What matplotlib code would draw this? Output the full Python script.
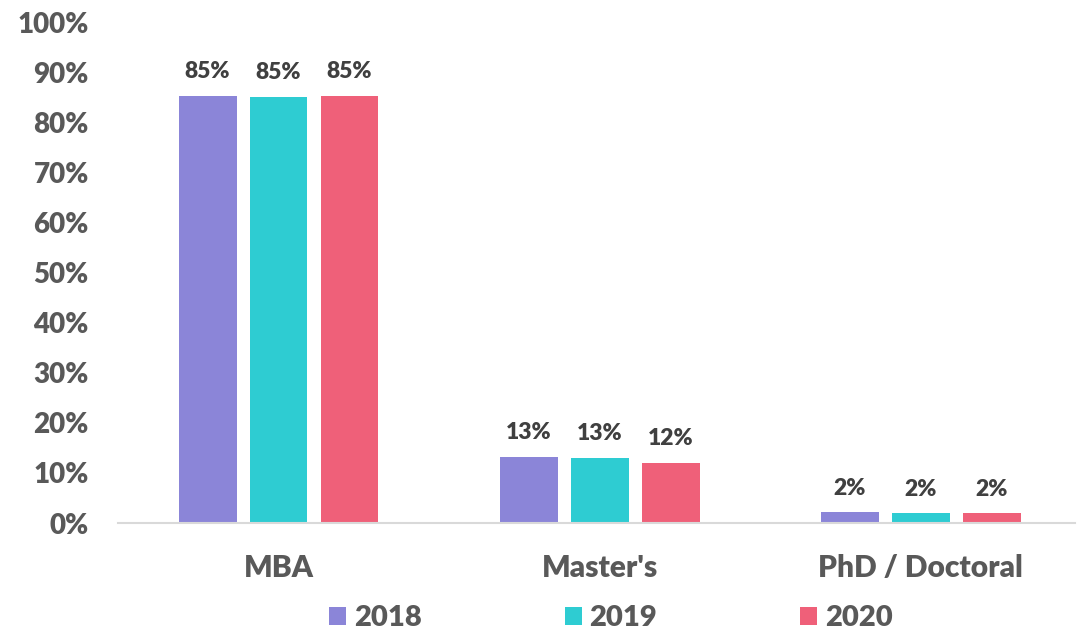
import matplotlib.pyplot as plt
import numpy as np

categories = ["MBA", "Master's", "PhD / Doctoral"]
years = ["2018", "2019", "2020"]
share_2018 = [85.3, 13.1, 2.1]
share_2019 = [85.1, 12.9, 1.9]
share_2020 = [85.3, 11.9, 1.9]
colors = ["#8B85D8", "#2ECCD2", "#EF6079"]

plt.rcParams["font.family"] = ["Lato", "DejaVu Sans"]
plt.rcParams["font.weight"] = 800

fig = plt.figure(figsize=(10.78, 6.3), dpi=100)
ax = fig.add_axes([118 / 1078, 1 - 523 / 630, 957 / 1078, 501 / 630])

x = np.arange(len(categories))
width = 0.18
offset = 0.221
for i, (vals, yr) in enumerate(zip([share_2018, share_2019, share_2020], years)):
    pos = x + (i - 1) * offset
    ax.bar(pos, vals, width, color=colors[i], label=yr)
    for p, v in zip(pos, vals):
        ax.annotate(f"{v:.0f}%", (p, v), xytext=(0, 10), textcoords="offset points",
                    ha="center", va="bottom", fontsize=16.5, fontweight=800, color="#404040")

ax.set_xlim(-0.5, 2.48)
ax.set_ylim(0, 100)
ax.set_yticks(range(0, 101, 10))
ax.set_yticklabels([f"{t}%" for t in range(0, 101, 10)])
ax.set_xticks(x)
ax.set_xticklabels(categories)
ax.tick_params(axis="y", length=0, pad=21, labelsize=20, labelcolor="#595959")
ax.tick_params(axis="x", length=0, pad=22, labelsize=21.5, labelcolor="#595959")
for lbl in ax.get_xticklabels() + ax.get_yticklabels():
    lbl.set_fontweight(800)
for s in ["top", "right", "left"]:
    ax.spines[s].set_visible(False)
ax.spines["bottom"].set_color("#D9D9D9")
ax.spines["bottom"].set_linewidth(1.5)

leg = fig.legend(loc="center", bbox_to_anchor=(611 / 1078, 1 - 618 / 630), ncol=3,
                 frameon=False, handlelength=0.58, handleheight=0.58,
                 handletextpad=0.27, columnspacing=4.9,
                 prop={"size": 21, "weight": 800})
for t in leg.get_texts():
    t.set_color("#595959")

fig.savefig("out.png", dpi=100)
